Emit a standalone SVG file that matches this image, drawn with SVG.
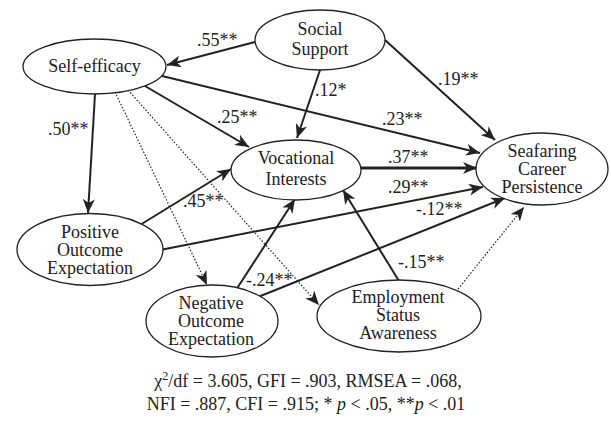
<svg xmlns="http://www.w3.org/2000/svg" width="611" height="421" viewBox="0 0 611 421">
<style>
text{font-family:"Liberation Serif","Times New Roman",serif;font-size:18px;fill:#222}
.node ellipse{fill:#fff;stroke:#222;stroke-width:1.3}
.node text{text-anchor:middle}
.e{fill:none;stroke:#222;stroke-width:2;marker-end:url(#ah)}
.t{stroke-width:3.2}
.d{stroke-width:1.2;stroke-dasharray:1.5 1.8}
</style>
<defs>
<marker id="ah" markerUnits="userSpaceOnUse" markerWidth="15" markerHeight="12" refX="14" refY="6" orient="auto">
<path d="M0,0 L14,6 L0,12 L4,6 z" fill="#222"/>
</marker>
</defs>
<g id="connectors">
<path class="e" d="M255,42 L167,65"/>
<path class="e" d="M95,94 L88,213"/>
<path class="e" d="M145,86 L249,147"/>
<path class="e" d="M162,76 L480,153"/>
<path class="e" d="M320,70 L297,138"/>
<path class="e" d="M385,40 L495,140"/>
<path class="e t" d="M361,168 L477,168"/>
<path class="e" d="M140,225 L231,169"/>
<path class="e" d="M160,250 L483,187"/>
<path class="e" d="M236,290 L295,199"/>
<path class="e" d="M258,297 L505,198"/>
<path class="e" d="M399,281 L343,190"/>
<path class="e d" d="M458,289 L524,207"/>
<path class="e d" d="M115,92 L207,285"/>
<path class="e d" d="M128,90 L319,305"/>
<text x="197" y="46">.55**</text>
<text x="48" y="135">.50**</text>
<text x="217" y="123">.25**</text>
<text x="382" y="125">.23**</text>
<text x="315" y="96">.12*</text>
<text x="438" y="85">.19**</text>
<text x="388" y="163">.37**</text>
<text x="183" y="207">.45**</text>
<text x="388" y="193">.29**</text>
<text x="246" y="286">-.24**</text>
<text x="416" y="215">-.12**</text>
<text x="398" y="268">-.15**</text>
</g>
<g id="self-efficacy" class="node">
<ellipse cx="94.5" cy="66.5" rx="71.5" ry="27.5"/>
<text x="94.5" y="72">Self-efficacy</text>
</g>
<g id="social-support" class="node">
<ellipse cx="320" cy="40" rx="65" ry="30"/>
<text x="320" y="35">Social</text>
<text x="320" y="55">Support</text>
</g>
<g id="vocational-interests" class="node">
<ellipse cx="296" cy="170" rx="65" ry="30"/>
<text x="296" y="164">Vocational</text>
<text x="296" y="185">Interests</text>
</g>
<g id="seafaring-career-persistence" class="node">
<ellipse cx="542" cy="169" rx="66" ry="36"/>
<text x="542" y="157">Seafaring</text>
<text x="542" y="175">Career</text>
<text x="542" y="193">Persistence</text>
</g>
<g id="positive-outcome-expectation" class="node">
<ellipse cx="90" cy="249.5" rx="73" ry="36"/>
<text x="90" y="238">Positive</text>
<text x="90" y="256">Outcome</text>
<text x="90" y="274">Expectation</text>
</g>
<g id="negative-outcome-expectation" class="node">
<ellipse cx="212" cy="321" rx="66" ry="36"/>
<text x="211" y="309">Negative</text>
<text x="211" y="327">Outcome</text>
<text x="211" y="345">Expectation</text>
</g>
<g id="employment-status-awareness" class="node">
<ellipse cx="399" cy="316" rx="82" ry="36"/>
<text x="398" y="303">Employment</text>
<text x="398" y="321">Status</text>
<text x="398" y="339">Awareness</text>
</g>
<g id="caption">
<text x="308" y="387" text-anchor="middle">χ<tspan font-size="12" dy="-7">2</tspan><tspan dy="7">/df = 3.605, GFI = .903, RMSEA = .068,</tspan></text>
<text x="306" y="410" text-anchor="middle">NFI = .887, CFI = .915; * <tspan font-style="italic">p</tspan> &lt; .05, **<tspan font-style="italic">p</tspan> &lt; .01</text>
</g>
</svg>
